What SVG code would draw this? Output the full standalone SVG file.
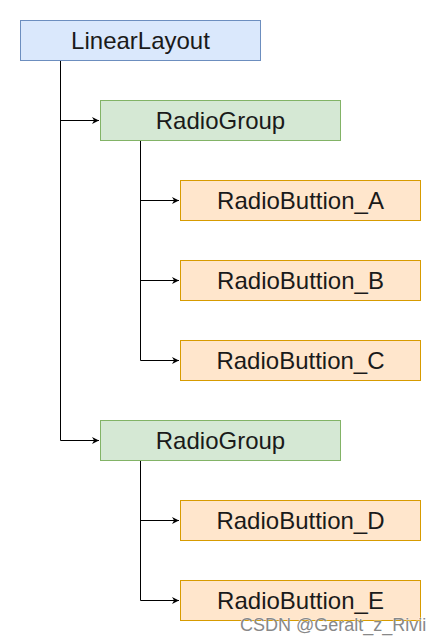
<svg xmlns="http://www.w3.org/2000/svg" width="441" height="641" viewBox="0 0 441 641">
<style>
.box{stroke-width:1}
.blue{fill:#dae8fc;stroke:#6c8ebf}
.green{fill:#d5e8d4;stroke:#82b366}
.orange{fill:#ffe6cc;stroke:#d79b00}
.lbl{font-family:"Liberation Sans",Arial,sans-serif;font-size:24px;fill:#1a1a1a;text-anchor:middle;dominant-baseline:central}
.edge{fill:none;stroke:#000;stroke-width:1}
.wm{font-family:"Liberation Sans",Arial,sans-serif;font-size:18px;fill:#888;stroke:#fff;stroke-width:0.6;paint-order:stroke}
</style>
<defs>
<marker id="arr" viewBox="0 0 10 10" refX="10" refY="5" markerWidth="7" markerHeight="7" markerUnits="userSpaceOnUse" orient="auto">
<path d="M0,0 L10,5 L0,10 L3,5 Z" fill="#000"/>
</marker>
</defs>
<rect width="441" height="641" fill="#fff"/>
<g id="connectors">
<path class="edge" d="M60.5,60 V120.5 H99" marker-end="url(#arr)"/>
<path class="edge" d="M60.5,120 V440.5 H99" marker-end="url(#arr)"/>
<path class="edge" d="M140.5,140 V200.5 H179" marker-end="url(#arr)"/>
<path class="edge" d="M140.5,200 V280.5 H179" marker-end="url(#arr)"/>
<path class="edge" d="M140.5,280 V360.5 H179" marker-end="url(#arr)"/>
<path class="edge" d="M140.5,460 V520.5 H179" marker-end="url(#arr)"/>
<path class="edge" d="M140.5,520 V600.5 H179" marker-end="url(#arr)"/>
</g>
<g id="linearlayout"><rect class="box blue" x="20.5" y="20.5" width="240" height="40"/><text class="lbl" x="140.5" y="40.5">LinearLayout</text></g>
<g id="radiogroup1"><rect class="box green" x="100.5" y="100.5" width="240" height="40"/><text class="lbl" x="220.5" y="120.5">RadioGroup</text></g>
<g id="buttonA"><rect class="box orange" x="180.5" y="180.5" width="240" height="40"/><text class="lbl" x="300.5" y="200.5">RadioButtion_A</text></g>
<g id="buttonB"><rect class="box orange" x="180.5" y="260.5" width="240" height="40"/><text class="lbl" x="300.5" y="280.5">RadioButtion_B</text></g>
<g id="buttonC"><rect class="box orange" x="180.5" y="340.5" width="240" height="40"/><text class="lbl" x="300.5" y="360.5">RadioButtion_C</text></g>
<g id="radiogroup2"><rect class="box green" x="100.5" y="420.5" width="240" height="40"/><text class="lbl" x="220.5" y="440.5">RadioGroup</text></g>
<g id="buttonD"><rect class="box orange" x="180.5" y="500.5" width="240" height="40"/><text class="lbl" x="300.5" y="520.5">RadioButtion_D</text></g>
<g id="buttonE"><rect class="box orange" x="180.5" y="580.5" width="240" height="40"/><text class="lbl" x="300.5" y="600.5">RadioButtion_E</text></g>
<text class="wm" x="240" y="631">CSDN @Geralt_z_Rivii</text>
</svg>
